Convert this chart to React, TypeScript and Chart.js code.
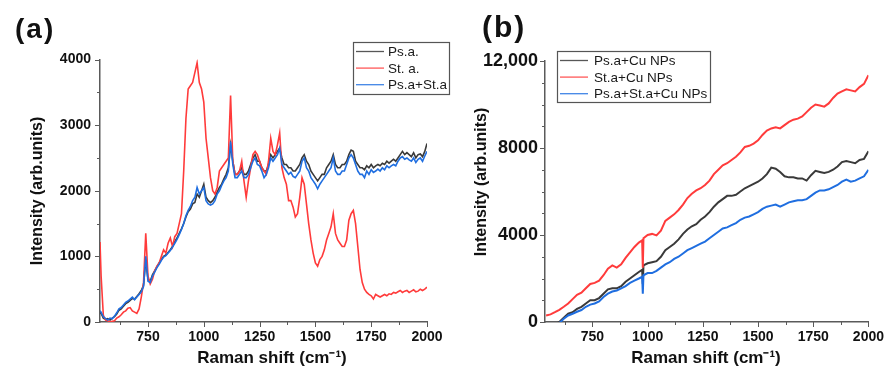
import React, { useEffect, useRef } from 'react';
import { Chart, registerables } from 'chart.js';

Chart.register(...registerables);

const FONT = "Arial, 'Liberation Sans', Helvetica, sans-serif";

// ---------- Panel (a) data ----------
// sampling grid of the Raman shift axis (cm-1)
const xA: number[] = [535, ...Array.from({ length: 147 }, (_, i) => 540 + 10 * i)];

const psA: number[] = [
  150,
  130, 60, 40, 50, 30, 60, 80, 120, 180, 200,
  240, 280, 300, 330, 360, 350, 390, 430, 480, 560,
  950, 650, 620, 720, 780, 840, 900, 950, 1000, 1020,
  1060, 1100, 1150, 1220, 1280, 1350, 1420, 1500, 1600, 1680,
  1720, 1800, 1820, 1950, 1900, 2000, 2100, 1900, 1850, 1820,
  1850, 1900, 1980, 2050, 2100, 2180, 2250, 2350, 2700, 2450,
  2250, 2250, 2300, 2350, 2250, 2250, 2300, 2400, 2500, 2550,
  2450, 2450, 2350, 2300, 2300, 2400, 2550, 2500, 2550, 2600,
  2650, 2500, 2400, 2400, 2350, 2350, 2300, 2300, 2350, 2400,
  2500, 2550, 2450, 2400, 2300, 2250, 2200, 2150, 2200, 2250,
  2250, 2350, 2400, 2450, 2550, 2400, 2350, 2350, 2400, 2400,
  2450, 2550, 2620, 2600, 2450, 2400, 2350, 2350, 2320, 2380,
  2350, 2400, 2350, 2380, 2400, 2380, 2420, 2400, 2450, 2420,
  2450, 2480, 2450, 2500, 2550, 2600, 2550, 2580, 2550, 2520,
  2580, 2500, 2550, 2560, 2520, 2600, 2720,
];

const stA: number[] = [
  1220,
  700, 100, 30, 20, 0, 10, 20, 60, 80, 110,
  150, 170, 210, 220, 170, 150, 130, 200, 380, 600,
  1350, 700, 580, 650, 780, 850, 900, 1000, 1100, 1050,
  1200, 1280, 1150, 1300, 1350, 1500, 1650, 2300, 3100, 3550,
  3600, 3650, 3800, 3950, 3650, 3550, 3350, 2800, 2500, 2200,
  2000, 1950, 2050, 2300, 2350, 2400, 2450, 2500, 3450, 2450,
  2250, 2250, 2300, 2450, 2150, 1900, 2150, 2350, 2550, 2600,
  2550, 2450, 2350, 2300, 2250, 2450, 2800, 2600, 2550, 2700,
  2880, 2350, 2200, 2100, 1850, 1850, 1750, 1600, 1650, 1900,
  2200, 2100, 1800, 1500, 1250, 1050, 900, 850, 950, 1000,
  1100, 1250, 1350, 1450, 1650, 1350, 1250, 1200, 1150, 1150,
  1250, 1550, 1650, 1700, 1500, 1150, 800, 600, 500, 450,
  420, 400, 350, 420, 400, 380, 400, 420, 400, 430,
  420, 450, 440, 460, 480, 450, 470, 480, 450, 470,
  490, 460, 470, 500, 480, 500, 530,
];

const mixA: number[] = [
  170,
  150, 80, 50, 30, 60, 50, 90, 140, 200, 220,
  260, 300, 320, 350, 380, 340, 380, 420, 460, 540,
  1000, 620, 600, 700, 760, 830, 880, 940, 990, 1010,
  1050, 1090, 1140, 1200, 1260, 1330, 1410, 1500, 1620, 1700,
  1760, 1850, 1900, 2050, 1950, 2000, 2050, 1850, 1800, 1780,
  1800, 1850, 1950, 2000, 2080, 2150, 2200, 2300, 2750, 2400,
  2200, 2200, 2250, 2300, 2200, 2200, 2250, 2350, 2450, 2500,
  2400, 2380, 2300, 2200, 2250, 2350, 2500, 2450, 2500, 2550,
  2650, 2400, 2350, 2300, 2250, 2280, 2220, 2200, 2250, 2300,
  2450, 2500, 2350, 2300, 2200, 2150, 2100, 2030, 2100, 2150,
  2200, 2250, 2300, 2350, 2500, 2300, 2250, 2250, 2300, 2300,
  2400, 2500, 2550, 2500, 2400, 2300, 2250, 2250, 2200, 2300,
  2250, 2320, 2280, 2300, 2330, 2300, 2350, 2320, 2380, 2350,
  2380, 2400, 2380, 2450, 2500, 2520, 2480, 2500, 2470, 2450,
  2500, 2430, 2480, 2500, 2450, 2530, 2600,
];

// ---------- Panel (b) data ----------
const xB: number[] = [
  540, 560, 580, 600, 620, 640, 660, 680, 700, 720, 740, 760, 780, 800, 820, 840, 860, 880, 900, 920, 940, 960,
  975, 978, 981,
  1000, 1020, 1040, 1060, 1080, 1100, 1120, 1140, 1160, 1180, 1200, 1220, 1240, 1260, 1280, 1300, 1320, 1340,
  1360, 1380, 1400, 1420, 1440, 1460, 1480, 1500, 1520, 1540, 1560, 1580, 1600, 1620, 1640, 1660, 1680, 1700,
  1720, 1740, 1760, 1780, 1800, 1820, 1840, 1860, 1880, 1900, 1920, 1940, 1960, 1980, 2000,
];

const psB: number[] = [
  -300, -200, -100, 0, 200, 380, 450, 600, 700, 850, 1000, 1000, 1100, 1300, 1500, 1550, 1550, 1650, 1850, 2000, 2150, 2300,
  2400, 1750, 2600,
  2700, 2750, 2800, 3000, 3300, 3450, 3600, 3800, 4050, 4250, 4400, 4500, 4700, 4850, 5050, 5300, 5500, 5650,
  5800, 5800, 5850, 6000, 6150, 6250, 6350, 6450, 6600, 6800, 7100, 7050, 6900, 6700, 6650, 6650, 6600, 6600,
  6500, 6750, 6950, 6900, 6850, 6900, 7000, 7150, 7350, 7400, 7350, 7300, 7450, 7500, 7850,
];

const stB: number[] = [
  300, 350, 450, 560, 700, 850, 1050, 1250, 1350, 1550, 1750, 1800, 1900, 2150, 2450, 2600, 2500, 2650, 2950, 3200, 3450, 3650,
  3750, 2500, 3850,
  4000, 4050, 3980, 4200, 4650, 4800, 4950, 5150, 5400, 5700, 5900, 6050, 6150, 6300, 6500, 6800, 7000, 7200,
  7300, 7450, 7600, 7800, 8050, 8100, 8200, 8350, 8600, 8800, 8900, 8950, 8900, 9050, 9200, 9300, 9350, 9450,
  9650, 9850, 10000, 9950, 9900, 10050, 10300, 10500, 10600, 10700, 10650, 10600, 10800, 10950, 11350,
];

const mixB: number[] = [
  -500, -350, -200, -50, 150, 300, 380, 470, 550, 700, 800, 850, 950, 1150, 1300, 1400, 1450, 1550, 1650, 1800, 1900, 2000,
  2080, 1300, 2150,
  2250, 2250, 2350, 2500, 2650, 2750, 2900, 3000, 3150, 3300, 3400, 3500, 3600, 3700, 3850, 4000, 4150, 4300,
  4350, 4450, 4550, 4700, 4800, 4850, 4950, 5050, 5200, 5300, 5350, 5400, 5300, 5400, 5500, 5550, 5600, 5600,
  5650, 5800, 5950, 6050, 6050, 6100, 6200, 6300, 6450, 6550, 6450, 6500, 6600, 6700, 7000,
];

// ---------- labels & ticks ----------
const labelsA = ['Ps.a.', 'St. a.', 'Ps.a+St.a'];
const labelsB = ['Ps.a+Cu NPs', 'St.a+Cu NPs', 'Ps.a+St.a+Cu NPs'];
const xTitle = 'Raman shift (cm\u207B\u00B9)';
const yTitle = 'Intensity (arb.units)';

const xMajorTicks = [750, 1000, 1250, 1500, 1750, 2000];
const xMinorTicks = [625, 875, 1125, 1375, 1625, 1875];
const yMajorTicksA = [0, 1000, 2000, 3000, 4000];
const yMinorTicksA = [500, 1500, 2500, 3500];
const yMajorTicksB = [0, 4000, 8000, 12000];
const yMinorTicksB = [1000, 2000, 3000, 5000, 6000, 7000, 9000, 10000, 11000];
const yTickLabelsB: Record<number, string> = { 0: '0', 4000: '4000', 8000: '8000', 12000: '12,000' };

const BLACK = '#3a3a3a';
const RED = '#ff3b3b';
const BLUE = '#1f6ee0';
const AXIS = '#5a5a5a';

const pts = (xs: number[], ys: number[]) => xs.map((x, i) => ({ x, y: ys[i] }));
const fixTicks = (vals: number[]) => (s: any) => { s.ticks = vals.map((v) => ({ value: v })); };

const decorPlugin = {
  id: 'decor',
  afterDraw(chart: any, _args: any, opts: any) {
    const ctx = chart.ctx;
    const xs = chart.scales.x;
    const ys = chart.scales.y;
    const a = chart.chartArea;
    ctx.save();
    ctx.strokeStyle = AXIS;
    ctx.lineWidth = 1;
    const seg = (x1: number, y1: number, x2: number, y2: number) => {
      ctx.beginPath();
      ctx.moveTo(x1, y1);
      ctx.lineTo(x2, y2);
      ctx.stroke();
    };
    for (const v of opts.xMajor) { const p = Math.round(xs.getPixelForValue(v)) + 0.5; seg(p, a.bottom, p, a.bottom + 5); }
    for (const v of opts.xMinor) { const p = Math.round(xs.getPixelForValue(v)) + 0.5; seg(p, a.bottom, p, a.bottom + 3); }
    for (const v of opts.yMajor) { const p = Math.round(ys.getPixelForValue(v)) + 0.5; seg(a.left - 5, p, a.left, p); }
    for (const v of opts.yMinor) { const p = Math.round(ys.getPixelForValue(v)) + 0.5; seg(a.left - 3, p, a.left, p); }

    // axis titles
    ctx.fillStyle = '#111';
    ctx.textAlign = 'center';
    ctx.textBaseline = 'middle';
    ctx.font = `bold 17px ${FONT}`;
    ctx.fillText(xTitle, opts.xTitleX, opts.xTitleY);
    ctx.save();
    ctx.translate(opts.yTitleX, opts.yTitleY);
    ctx.rotate(-Math.PI / 2);
    ctx.font = `bold 16px ${FONT}`;
    ctx.fillText(yTitle, 0, 0);
    ctx.restore();

    // legend
    const lg = opts.legend;
    ctx.fillStyle = '#fff';
    ctx.fillRect(lg.x, lg.y, lg.w, lg.h);
    ctx.strokeStyle = '#555';
    ctx.lineWidth = 1.2;
    ctx.strokeRect(lg.x + 0.5, lg.y + 0.5, lg.w, lg.h);
    ctx.font = `13.5px ${FONT}`;
    ctx.textAlign = 'left';
    chart.data.datasets.forEach((ds: any, i: number) => {
      const cy = lg.y + lg.firstRow + i * lg.rowH;
      ctx.strokeStyle = ds.borderColor;
      ctx.globalAlpha = 0.85;
      ctx.lineWidth = 1.3;
      seg(lg.x + 3, cy, lg.x + 3 + lg.lineW, cy);
      ctx.globalAlpha = 1;
      ctx.fillStyle = '#1a1a1a';
      ctx.fillText(ds.label, lg.x + lg.textX, cy + 1);
    });
    ctx.restore();
  },
};

const tickFont = (size: number) => ({ family: FONT, size, weight: 'bold' as const });

function xScale(): any {
  return {
    type: 'linear', min: 535, max: 2000,
    afterFit: (s: any) => { s.height = 49; },
    afterBuildTicks: fixTicks(xMajorTicks),
    grid: { display: false, drawTicks: false },
    border: { display: true, color: AXIS, width: 1.5 },
    ticks: {
      autoSkip: false, maxRotation: 0, minRotation: 0, padding: 7,
      color: '#111', font: tickFont(14), callback: (v: number) => String(v),
    },
  };
}

function configA(): any {
  return {
    type: 'line',
    data: {
      datasets: [
        { label: labelsA[0], data: pts(xA, psA), borderColor: BLACK, order: 3 },
        { label: labelsA[1], data: pts(xA, stA), borderColor: RED, order: 2 },
        { label: labelsA[2], data: pts(xA, mixA), borderColor: BLUE, order: 1 },
      ],
    },
    options: {
      animation: false,
      responsive: false,
      devicePixelRatio: 1,
      elements: { point: { radius: 0 }, line: { borderWidth: 1.6, tension: 0 } },
      layout: { padding: { left: 0, top: 59.5, right: 33, bottom: 0 } },
      plugins: {
        legend: { display: false },
        tooltip: { enabled: false },
        decor: {
          xMajor: xMajorTicks, xMinor: xMinorTicks, yMajor: yMajorTicksA, yMinor: yMinorTicksA,
          xTitleX: 272, xTitleY: 358, yTitleX: 38, yTitleY: 191,
          legend: { x: 353, y: 42, w: 96, h: 52, firstRow: 9.5, rowH: 16.6, lineW: 28, textX: 35 },
        },
      },
      scales: {
        x: xScale(),
        y: {
          type: 'linear', min: 0, max: 4000,
          afterFit: (s: any) => { s.width = 100; },
          afterBuildTicks: fixTicks(yMajorTicksA),
          grid: { display: false, drawTicks: false },
          border: { display: true, color: AXIS, width: 1.5 },
          ticks: {
            padding: 9, color: '#111', font: tickFont(14),
            callback: (v: number) => String(v),
          },
        },
      },
    },
    plugins: [decorPlugin],
  };
}

function configB(): any {
  return {
    type: 'line',
    data: {
      datasets: [
        { label: labelsB[0], data: pts(xB, psB), borderColor: BLACK, order: 3 },
        { label: labelsB[1], data: pts(xB, stB), borderColor: RED, order: 2 },
        { label: labelsB[2], data: pts(xB, mixB), borderColor: BLUE, order: 1 },
      ],
    },
    options: {
      animation: false,
      responsive: false,
      devicePixelRatio: 1,
      elements: { point: { radius: 0 }, line: { borderWidth: 2, tension: 0 } },
      layout: { padding: { left: 0, top: 61, right: 19, bottom: 0 } },
      plugins: {
        legend: { display: false },
        tooltip: { enabled: false },
        decor: {
          xMajor: xMajorTicks, xMinor: xMinorTicks, yMajor: yMajorTicksB, yMinor: yMinorTicksB,
          xTitleX: 266, xTitleY: 358, yTitleX: 42, yTitleY: 182,
          legend: { x: 117, y: 51, w: 153, h: 51, firstRow: 9.5, rowH: 16.6, lineW: 28, textX: 37 },
        },
      },
      scales: {
        x: xScale(),
        y: {
          type: 'linear', min: 0, max: 12000,
          afterFit: (s: any) => { s.width = 105; },
          afterBuildTicks: fixTicks(yMajorTicksB),
          grid: { display: false, drawTicks: false },
          border: { display: true, color: AXIS, width: 1.5 },
          ticks: {
            padding: 7, color: '#111', font: tickFont(18),
            callback: (v: number) => yTickLabelsB[v] ?? String(v),
          },
        },
      },
    },
    plugins: [decorPlugin],
  };
}

function Panel({ make, left, width }: { make: () => any; left: number; width: number }) {
  const ref = useRef<HTMLCanvasElement | null>(null);
  useEffect(() => {
    if (!ref.current) return;
    const chart = new Chart(ref.current, make());
    return () => chart.destroy();
  }, []);
  return (
    <canvas
      ref={ref}
      width={width}
      height={371}
      style={{ position: 'absolute', left, top: 0, width, height: 371 }}
    />
  );
}

export default function App() {
  return (
    <div style={{ position: 'absolute', left: 0, top: 0, width: 891, height: 371, background: '#fff', overflow: 'hidden' }}>
      <Panel make={configA} left={0} width={460} />
      <Panel make={configB} left={440} width={451} />
      <div style={{ position: 'absolute', left: 15, top: 15, font: `bold 28px ${FONT}`, lineHeight: 1, letterSpacing: 2, color: '#111' }}>(a)</div>
      <div style={{ position: 'absolute', left: 482, top: 12, font: `bold 30px ${FONT}`, lineHeight: 1, letterSpacing: 2, color: '#111' }}>(b)</div>
    </div>
  );
}
